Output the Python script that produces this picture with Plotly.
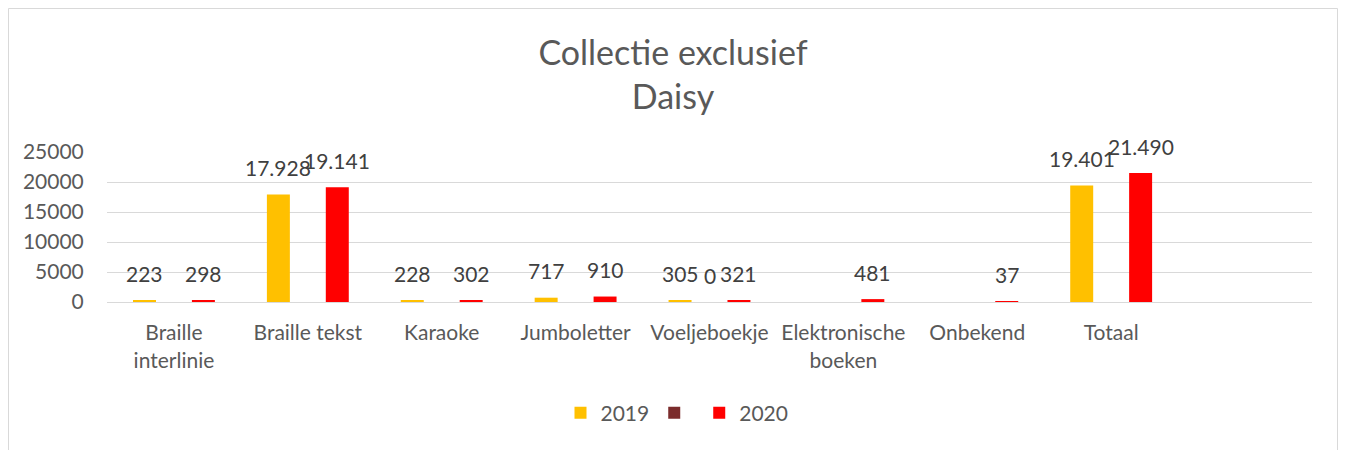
import plotly.graph_objects as go

categories = ["Braille interlinie", "Braille tekst", "Karaoke", "Jumboletter",
              "Voeljeboekje", "Elektronische boeken", "Onbekend", "Totaal"]
tick_labels = ["Braille<br>interlinie", "Braille tekst", "Karaoke", "Jumboletter",
               "Voeljeboekje", "Elektronische<br>boeken", "Onbekend", "Totaal"]
series_names = ["2019", "", "2020"]
values_2019 = [223, 17928, 228, 717, 305, None, None, 19401]
values_mid = [None, None, None, None, 0, None, None, None]
values_2020 = [298, 19141, 302, 910, 321, 481, 37, 21490]
colors = ["#FFC000", "#7B2C2C", "#FF0000"]

all_series = [values_2019, values_mid, values_2020]

FONT = "Lato"
W, H = 1330, 442
ML, MR, MT, MB = 99, 26, 144, 148
BARGAP = 0.34
BARGROUPGAP = 0.22
N_SLOTS = 9  # axis shows one extra empty slot after "Totaal"

plot_w = W - ML - MR
plot_h = H - MT - MB
plot_bottom = H - MB

fig = go.Figure()
for name, vals, col in zip(series_names, all_series, colors):
    fig.add_trace(go.Bar(x=categories, y=vals, name=name,
                         marker=dict(color=col, line=dict(width=0)), showlegend=True))

def fmt(v):
    return f"{v:,}".replace(",", ".")

cat_px = plot_w / N_SLOTS
slot_px = cat_px * (1 - BARGAP) / 3
annotations = []
for i, vals in enumerate(all_series):
    for c, v in zip(categories, vals):
        if v is None:
            continue
        annotations.append(dict(x=c, y=v, xref="x", yref="y", text=fmt(v), showarrow=False,
                                xshift=(i - 1) * slot_px, yshift=27, yanchor="middle",
                                font=dict(family=FONT, size=21, color="#404040")))

fig.update_layout(
    width=W, height=H,
    margin=dict(l=ML, r=MR, t=MT, b=MB),
    paper_bgcolor="white", plot_bgcolor="white",
    barmode="group", bargap=BARGAP, bargroupgap=BARGROUPGAP,
    font=dict(family=FONT, size=21, color="#595959"),
    title=dict(text="Collectie exclusief<br>Daisy", x=0.5, xanchor="center", xref="container",
               y=1 - 57 / H, yanchor="middle", yref="container",
               font=dict(family=FONT, size=34, color="#595959")),
    xaxis=dict(type="category", categoryorder="array", categoryarray=categories,
               range=[-0.5, N_SLOTS - 0.5], tickvals=categories, ticktext=tick_labels,
               showgrid=False, showline=False, zeroline=False,
               ticks="outside", ticklen=12, tickcolor="rgba(0,0,0,0)",
               tickfont=dict(family=FONT, size=21, color="#595959")),
    yaxis=dict(range=[0, 25000], dtick=5000, tickformat="d",
               showgrid=True, gridcolor="#D9D9D9", gridwidth=1,
               zeroline=True, zerolinecolor="#D9D9D9", zerolinewidth=1,
               showline=False, ticks="outside", ticklen=18, tickcolor="rgba(0,0,0,0)",
               tickfont=dict(family=FONT, size=21, color="#595959")),
    legend=dict(orientation="h", x=(669 - ML) / plot_w, xanchor="center",
                y=(plot_bottom - 405) / plot_h, yanchor="middle",
                font=dict(family=FONT, size=21, color="#595959"),
                itemclick=False, traceorder="normal"),
    annotations=annotations,
    shapes=[dict(type="rect", xref="paper", yref="paper",
                 x0=(0.5 - ML) / plot_w, x1=(W - 0.5 - ML) / plot_w,
                 y0=(plot_bottom - 470) / plot_h, y1=(plot_bottom - 0.5) / plot_h,
                 line=dict(color="#D9D9D9", width=1), fillcolor="rgba(0,0,0,0)", layer="below")],
    hovermode=False,
)

fig.write_html("out.html")
